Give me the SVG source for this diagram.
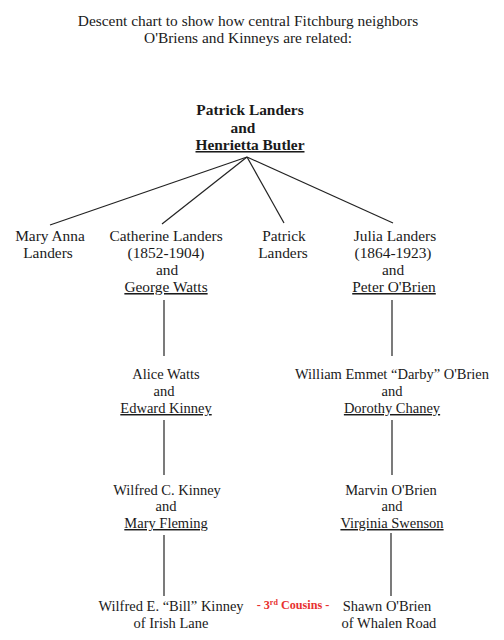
<svg xmlns="http://www.w3.org/2000/svg" width="504" height="640" viewBox="0 0 504 640">
<style>
text{font-family:"Liberation Serif","Times New Roman",serif;font-size:14.5px;fill:#1a1a1a;text-anchor:middle}
.L{font-size:15.4px}
.b{font-weight:bold}
.u{text-decoration:underline}
.r{fill:#e8312f;font-weight:bold;font-size:12.2px}
.c line{stroke:#222;stroke-width:1.2}
</style>
<rect width="504" height="640" fill="#fff"/>
<g id="title" class="L">
<text class="L" x="248" y="26">Descent chart to show how central Fitchburg neighbors</text>
<text class="L" x="248" y="43">O'Briens and Kinneys are related:</text>
</g>
<g id="root">
<text class="L b" x="250" y="115">Patrick Landers</text>
<text class="L b" x="243" y="133">and</text>
<text class="L b u" x="250" y="150">Henrietta Butler</text>
</g>
<g id="mary">
<text class="L" x="50" y="241">Mary Anna</text>
<text class="L" x="48" y="258">Landers</text>
</g>
<g id="catherine">
<text class="L" x="166" y="241">Catherine Landers</text>
<text class="L" x="166" y="258">(1852-1904)</text>
<text class="L" x="167" y="275">and</text>
<text class="L u" x="166" y="292">George Watts</text>
</g>
<g id="patrick">
<text class="L" x="284" y="241">Patrick</text>
<text class="L" x="283" y="258">Landers</text>
</g>
<g id="julia">
<text class="L" x="395" y="241">Julia Landers</text>
<text class="L" x="393" y="258">(1864-1923)</text>
<text class="L" x="393" y="275">and</text>
<text class="L u" x="394" y="292">Peter O'Brien</text>
</g>
<g id="alice">
<text x="166" y="379">Alice Watts</text>
<text x="164" y="396">and</text>
<text class="u" x="166" y="413">Edward Kinney</text>
</g>
<g id="william">
<text x="392" y="379">William Emmet “Darby” O'Brien</text>
<text x="392" y="396">and</text>
<text class="u" x="392" y="413">Dorothy Chaney</text>
</g>
<g id="wilfredc">
<text x="167" y="495">Wilfred C. Kinney</text>
<text x="166" y="511">and</text>
<text class="u" x="166" y="528">Mary Fleming</text>
</g>
<g id="marvin">
<text x="391" y="495">Marvin O'Brien</text>
<text x="392" y="511">and</text>
<text class="u" x="392" y="528">Virginia Swenson</text>
</g>
<g id="bill">
<text x="171" y="611">Wilfred E. “Bill” Kinney</text>
<text x="171" y="628">of  Irish Lane</text>
</g>
<g id="shawn">
<text x="387" y="611">Shawn O'Brien</text>
<text x="389" y="628">of Whalen Road</text>
</g>
<g id="cousins">
<text class="r" x="293" y="609">- 3<tspan font-size="8" dy="-4">rd</tspan><tspan dy="4"> Cousins -</tspan></text>
</g>
<g id="connectors" class="c">
<line x1="247" y1="157" x2="50" y2="225"/>
<line x1="247" y1="157" x2="162" y2="224"/>
<line x1="247" y1="157" x2="284" y2="223"/>
<line x1="247" y1="157" x2="393" y2="223"/>
<line x1="164" y1="300" x2="164" y2="356"/>
<line x1="392" y1="300" x2="392" y2="356"/>
<line x1="164" y1="420" x2="164" y2="475"/>
<line x1="392" y1="420" x2="392" y2="475"/>
<line x1="164" y1="535" x2="164" y2="596"/>
<line x1="391" y1="533" x2="391" y2="596"/>
</g>
</svg>
